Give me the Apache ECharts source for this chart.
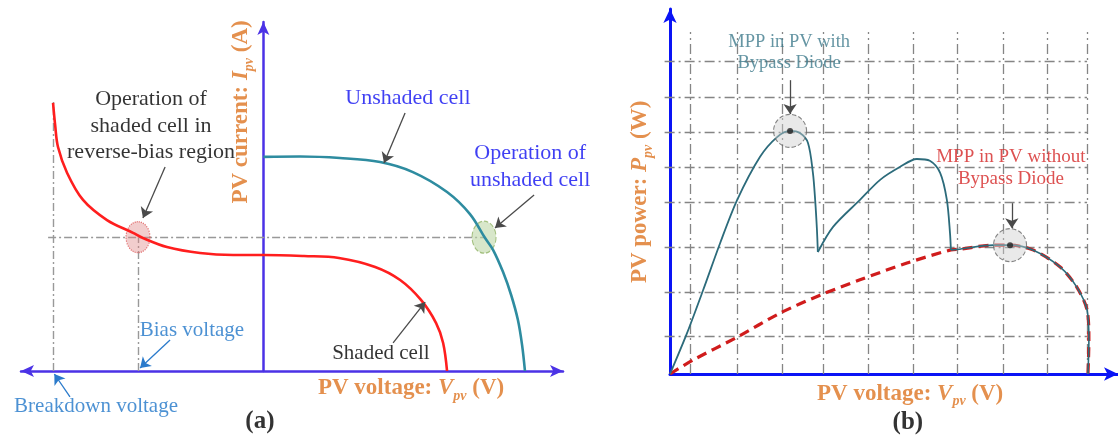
<!DOCTYPE html>
<html><head><meta charset="utf-8">
<script src="https://cdn.jsdelivr.net/npm/echarts@6/dist/echarts.min.js"></script>
<style>html,body{margin:0;padding:0;background:#fff}#c{width:1118px;height:437px}</style>
</head><body><div id="c"></div><script>
// ---------- Panel (a): I-V curves (normalised units) ----------
const unshadedCell = [[0,100],[14.1,100.2],[29.4,99.5],[44.8,97.6],[57.4,92.9],[70.5,83.6],[79.3,73.3],[85.1,62.1],[88.2,56.5],[92.0,46.2],[95.1,35.5],[97.7,23.8],[99.3,12.1],[100.4,0]];
const shadedCell = [[-80.7,125.2],[-79.9,114.9],[-78.8,104.6],[-75.3,92.5],[-69.2,79.9],[-60.0,70.5],[-50.0,64.5],[-46.2,62.1],[-37.0,57.9],[-24.3,55.1],[-11.6,54.2],[0,54.2],[15.6,53.7],[29.0,52.8],[42.9,48.6],[52.5,42.5],[60.5,33.2],[66.3,22.4],[69.0,13.1],[70.5,0]];
const operatingCurrent = 62.5;
const breakdownVoltage = -80.5;
const breakdownTop = 126.6;
const biasVoltage = -48.1;
const unshadedOpVoltage = 84.7;

// ---------- Panel (b): P-V curves (normalised units) ----------
const gridVoltagesB = [4.5,15,25,34.2,44.2,54.2,64.1,74.3,84.2,93.1];
const gridPowersB = [10.4,22.5,34.8,47.1,56.7,66.3,75.9,85.8];
const withBypassHump1 = [[0,0],[3.8,11.2],[7.4,23.0],[11.2,35.9],[15,47.7],[20.1,59.5],[23.9,64.9],[26.8,66.6],[29,66],[30.8,63.3],[31.9,55.1],[32.4,47.7],[32.8,39.5],[33,33.4]];
const withBypassHump2 = [[33,33.4],[36.4,40.3],[42.4,47.7],[46.9,53.2],[51.3,56.7],[55.1,58.9],[58,58.4],[60.3,55.1],[61.8,47.7],[62.5,38.6],[62.7,34]];
const commonTail = [[62.7,34],[64.7,34.2],[72.1,35.3],[75.9,35.3],[81,34],[87.1,29.3],[90.8,23.8],[93.1,17.5],[93.5,9.3],[93.3,0]];
const withoutBypassRise = [[0,0],[5.1,3.8],[15,10.1],[24.6,16.7],[33.5,21.6],[42.4,25.8],[52.9,30.4],[62.7,34]];
const mppWithBypass = [26.8,66.6];
const mppWithoutBypass = [75.9,35.3];

const F = '"Liberation Serif","Times New Roman",serif';
const ORANGE = '#DD7422';

function textS(gi, pos, fmt, opt) {
  return { type:'scatter', xAxisIndex:gi, yAxisIndex:gi, symbolSize:0, silent:true, clip:false, z:20,
    data:[{value:pos}],
    label: Object.assign({show:true, position:'inside', formatter:fmt, fontFamily:F, fontSize:22, color:'#000', align:'center', verticalAlign:'middle'}, opt) };
}
function linesS(gi, list, color, width, type, arrow, z) {
  return { type:'lines', coordinateSystem:'cartesian2d', xAxisIndex:gi, yAxisIndex:gi, clip:false, silent:true, z:z||5,
    symbol: arrow ? ['none','arrow'] : ['none','none'], symbolSize: arrow ? 10 : 0,
    lineStyle:{color:color, width:width, type:type||'solid', opacity:1, curveness:0},
    data: list.map(c => ({coords:c})) };
}
function titleRich(size) {
  const base = {fontFamily:F, fontSize:size, fontWeight:'bold', color:ORANGE, lineHeight:26, padding:[0,0,4,0], verticalAlign:'top'};
  return { b: base, i: Object.assign({}, base, {fontStyle:'italic'}),
    s: {fontFamily:F, fontSize:14, fontWeight:'bold', fontStyle:'italic', color:ORANGE, lineHeight:15, verticalAlign:'bottom'} };
}
const noAxisBits = {axisTick:{show:false}, axisLabel:{show:false}, splitLine:{show:false}};

const gridLinesB = [];
gridVoltagesB.forEach(v => gridLinesB.push([[v,0],[v,93.7]]));
gridPowersB.forEach(p => gridLinesB.push([[-1.2,p],[93.1,p]]));

const option = {
  animation:false,
  grid:[
    {left:21, top:22, width:542, height:349},
    {left:670, top:9, width:448, height:365}
  ],
  xAxis:[
    Object.assign({gridIndex:0, type:'value', min:-93, max:115,
      axisLine:{show:true, onZero:true, symbol:['arrow','arrow'], symbolSize:[9,13], lineStyle:{color:'#4B32E6', width:2.5}}}, noAxisBits),
    Object.assign({gridIndex:1, type:'value', min:0, max:100,
      axisLine:{show:true, onZero:true, symbol:['none','arrow'], symbolSize:[10,14], lineStyle:{color:'#0A14F5', width:3}}}, noAxisBits)
  ],
  yAxis:[
    Object.assign({gridIndex:0, type:'value', min:0, max:163,
      axisLine:{show:true, onZero:true, symbol:['none','arrow'], symbolSize:[9,13], lineStyle:{color:'#4B32E6', width:2.5}}}, noAxisBits),
    Object.assign({gridIndex:1, type:'value', min:0, max:100,
      axisLine:{show:true, onZero:true, symbol:['none','arrow'], symbolSize:[10,14], lineStyle:{color:'#0A14F5', width:3}}}, noAxisBits)
  ],
  series:[
    // ---- panel (a) guides
    linesS(0, [
      [[-82.6,operatingCurrent],[unshadedOpVoltage,operatingCurrent]],
      [[breakdownVoltage,0],[breakdownVoltage,breakdownTop]],
      [[biasVoltage,0],[biasVoltage,operatingCurrent]]
    ], '#999', 1.4, [8,3,2,3], false, 2),
    {type:'line', xAxisIndex:0, yAxisIndex:0, data:unshadedCell, smooth:0.35, showSymbol:false, clip:false, silent:true, z:4,
      lineStyle:{color:'#2E8CA0', width:2.6}},
    {type:'line', xAxisIndex:0, yAxisIndex:0, data:shadedCell, smooth:0.35, showSymbol:false, clip:false, silent:true, z:4,
      lineStyle:{color:'#FF1E1E', width:2.6}},
    {type:'scatter', xAxisIndex:0, yAxisIndex:0, silent:true, z:3, symbol:'circle', symbolSize:[24,31],
      data:[[biasVoltage,operatingCurrent]],
      itemStyle:{color:'rgba(222,130,130,0.5)', borderColor:'#DD5555', borderWidth:1.2, borderType:'dotted'}},
    {type:'scatter', xAxisIndex:0, yAxisIndex:0, silent:true, z:3, symbol:'circle', symbolSize:[24,32],
      data:[[unshadedOpVoltage,operatingCurrent]],
      itemStyle:{color:'rgba(185,212,160,0.7)', borderColor:'#92B468', borderWidth:1.2, borderType:'dashed'}},
    linesS(0, [
      [[-37.7,95.3],[-46.2,71.5]],
      [[54.4,120.5],[46.3,97.2]],
      [[103.9,82.2],[88.9,66.8]],
      [[49.8,13.1],[62.1,32.2]]
    ], '#4a4a4a', 1.3, 'solid', true, 6),
    linesS(0, [
      [[-35.8,14.5],[-47.3,1.4]],
      [[-74.2,-12.1],[-80.2,-1.4]]
    ], '#2A7ACB', 1.3, 'solid', true, 6),
    textS(0, [-43.1,114.4], 'Operation of\nshaded cell in\nreverse-bias region', {lineHeight:26.5}),
    textS(0, [55.5,127.5], 'Unshaded cell', {color:'#0F0FF0'}),
    textS(0, [102.4,95.3], 'Operation of\nunshaded cell', {color:'#0F0FF0', lineHeight:27}),
    textS(0, [45.1,8.4], 'Shaded cell', {fontSize:21}),
    textS(0, [-27.4,19.1], 'Bias voltage', {color:'#1F76C8', fontSize:21}),
    textS(0, [-64.2,-16.8], 'Breakdown voltage', {color:'#1F76C8', fontSize:21}),
    textS(0, [56.7,-8.9], '{b|PV voltage: }{i|V}{s|pv}{b| (V)}', {rich:titleRich(23)}),
    textS(0, [-7.8,121], '{b|PV current: }{i|I}{s|pv}{b| (A)}', {rich:titleRich(23), rotate:90}),
    textS(0, [-1.3,-23.4], '(a)', {fontWeight:'bold', fontSize:25}),

    // ---- panel (b)
    linesS(1, gridLinesB, '#858585', 1.3, [10,4,2,4], false, 1),
    {type:'line', xAxisIndex:1, yAxisIndex:1, data:withoutBypassRise.concat(commonTail.slice(1)), smooth:0.3, showSymbol:false, clip:false, silent:true, z:3,
      lineStyle:{color:'#D01C1C', width:3.2, type:[10,6]}},
    {type:'line', xAxisIndex:1, yAxisIndex:1, data:withBypassHump1, smooth:0.3, showSymbol:false, clip:false, silent:true, z:4,
      lineStyle:{color:'#2C6B7B', width:1.8}},
    {type:'line', xAxisIndex:1, yAxisIndex:1, data:withBypassHump2, smooth:0.3, showSymbol:false, clip:false, silent:true, z:4,
      lineStyle:{color:'#2C6B7B', width:1.8}},
    {type:'line', xAxisIndex:1, yAxisIndex:1, data:commonTail, smooth:0.3, showSymbol:false, clip:false, silent:true, z:4,
      lineStyle:{color:'#2C6B7B', width:1.6}},
    {type:'scatter', xAxisIndex:1, yAxisIndex:1, silent:true, z:5, symbol:'circle', symbolSize:33,
      data:[mppWithBypass, mppWithoutBypass],
      itemStyle:{color:'rgba(205,205,205,0.55)', borderColor:'#666', borderWidth:1.1, borderType:'dashed'}},
    {type:'scatter', xAxisIndex:1, yAxisIndex:1, silent:true, z:6, symbol:'circle', symbolSize:6,
      data:[mppWithBypass, mppWithoutBypass], itemStyle:{color:'#222'}},
    linesS(1, [
      [[26.8,80.5],[26.8,71.2]],
      [[76.3,46.8],[76.3,39.9]]
    ], '#4a4a4a', 1.3, 'solid', true, 7),
    textS(1, [26.6,88.1], 'MPP in PV with\nBypass Diode', {color:'#3F7B8C', fontSize:18.5, lineHeight:21}),
    textS(1, [76.1,56.3], 'MPP in PV without\nBypass Diode', {color:'#D42626', fontSize:19, lineHeight:22}),
    textS(1, [53.6,-5.8], '{b|PV voltage: }{i|V}{s|pv}{b| (V)}', {rich:titleRich(23)}),
    textS(1, [-6.25,49.9], '{b|PV power: }{i|P}{s|pv}{b| (W)}', {rich:titleRich(23), rotate:90}),
    textS(1, [53.1,-13.2], '(b)', {fontWeight:'bold', fontSize:25})
  ]
};
const chart = echarts.init(document.getElementById('c'));
chart.setOption(option);
</script></body></html>
